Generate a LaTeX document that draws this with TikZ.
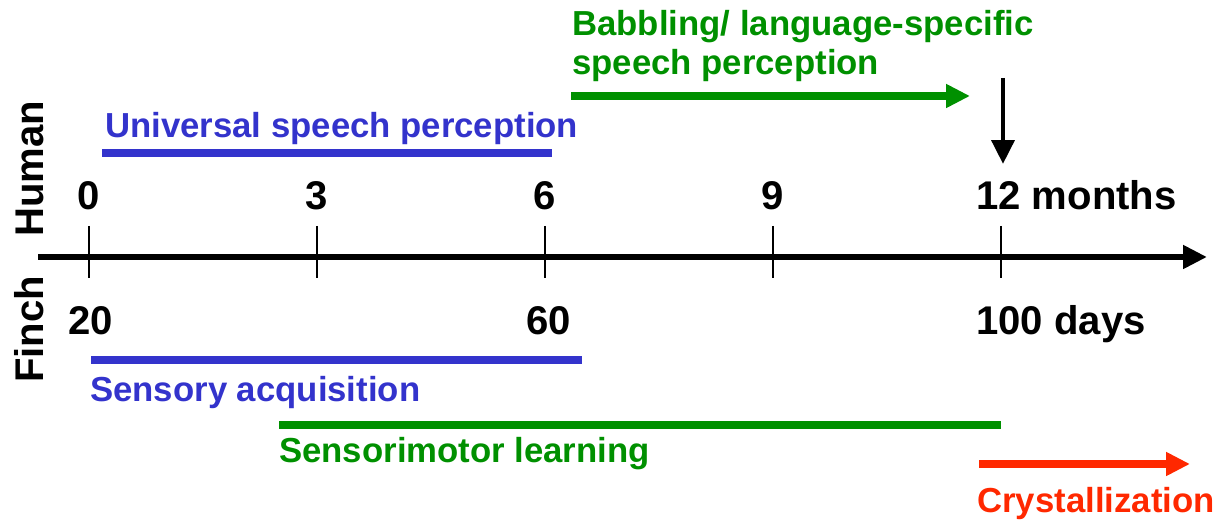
\documentclass[tikz,border=0pt]{standalone}
\usepackage{fontspec}
\setmainfont{Liberation Sans}
\usetikzlibrary{arrows.meta}
\definecolor{spblue}{RGB}{51,51,204}
\definecolor{spgreen}{RGB}{0,144,0}
\definecolor{spred}{RGB}{255,40,0}

\begin{document}
\begin{tikzpicture}[x=0.025cm,y=-0.025cm,>={Triangle[length=17pt,width=16pt]},
  numlbl/.style={font=\fontsize{28.5}{32}\selectfont\bfseries,anchor=base,inner sep=0pt},
  bandlbl/.style={font=\fontsize{24.7}{27.6}\selectfont\bfseries,anchor=base west,inner sep=0pt},
  rowlbl/.style={font=\fontsize{28.5}{32}\selectfont\bfseries,rotate=90,anchor=base west,inner sep=0pt},
  bar/.style={line width=6pt},
  tickmark/.style={line width=1.4pt}]
\useasboundingbox (0,0) rectangle (1219,523);
% ---------- time axis ----------
\coordinate (axL) at (38,257);
\coordinate (axR) at (1207,257);
\draw[line width=4.3pt,->] (axL) -- (axR);
\node[rowlbl] (human) at (43,237) {Human};
\node[rowlbl] (finch) at (43,383) {Finch};
% ticks, months above
\foreach \tx/\lab in {89/0,317/3,545/6,773/9,1001/12}{
  \draw[tickmark] (\tx,226) -- (\tx,278);
}
\foreach \tx/\lab in {89/0,317/3,545/6,773/9}{
  \node[numlbl] (m\lab) at (\tx,210) {\lab};
}
\node[numlbl,anchor=base west] (m12) at (976,210) {12 months};
% days below
\node[numlbl] (d20) at (91,335) {20};
\node[numlbl] (d60) at (549,335) {60};
\node[numlbl,anchor=base west] (d100) at (976,335) {100 days};
% ---------- human ----------
\node[bandlbl,text=spblue] (univ) at (105,138) {Universal speech perception};
\coordinate (univL) at (102,153);
\coordinate (univR) at (552,153);
\draw[bar,spblue] (univL) -- (univR);
\node[bandlbl,text=spgreen,align=left,anchor=north west] (babb) at (572,10)
  {Babbling/ language-specific\\speech perception};
\coordinate (babbL) at (571,96);
\coordinate (babbR) at (970,96);
\draw[bar,spgreen,->] (babbL) -- (babbR);
\coordinate (yearTop) at (1003,78);
\coordinate (yearTip) at (1003,164);
\draw[line width=3.5pt,->] (yearTop) -- (yearTip);
% ---------- finch ----------
\coordinate (sensL) at (91,360);
\coordinate (sensR) at (582,360);
\draw[bar,spblue] (sensL) -- (sensR);
\node[bandlbl,text=spblue] (sens) at (90,402) {Sensory acquisition};
\coordinate (motL) at (279,425);
\coordinate (motR) at (1001,425);
\draw[bar,spgreen] (motL) -- (motR);
\node[bandlbl,text=spgreen] (mot) at (279,463) {Sensorimotor learning};
\coordinate (crysL) at (979,464);
\coordinate (crysR) at (1190,464);
\draw[bar,spred,->] (crysL) -- (crysR);
\node[bandlbl,text=spred] (crys) at (977,513) {Crystallization};
\end{tikzpicture}
\end{document}
